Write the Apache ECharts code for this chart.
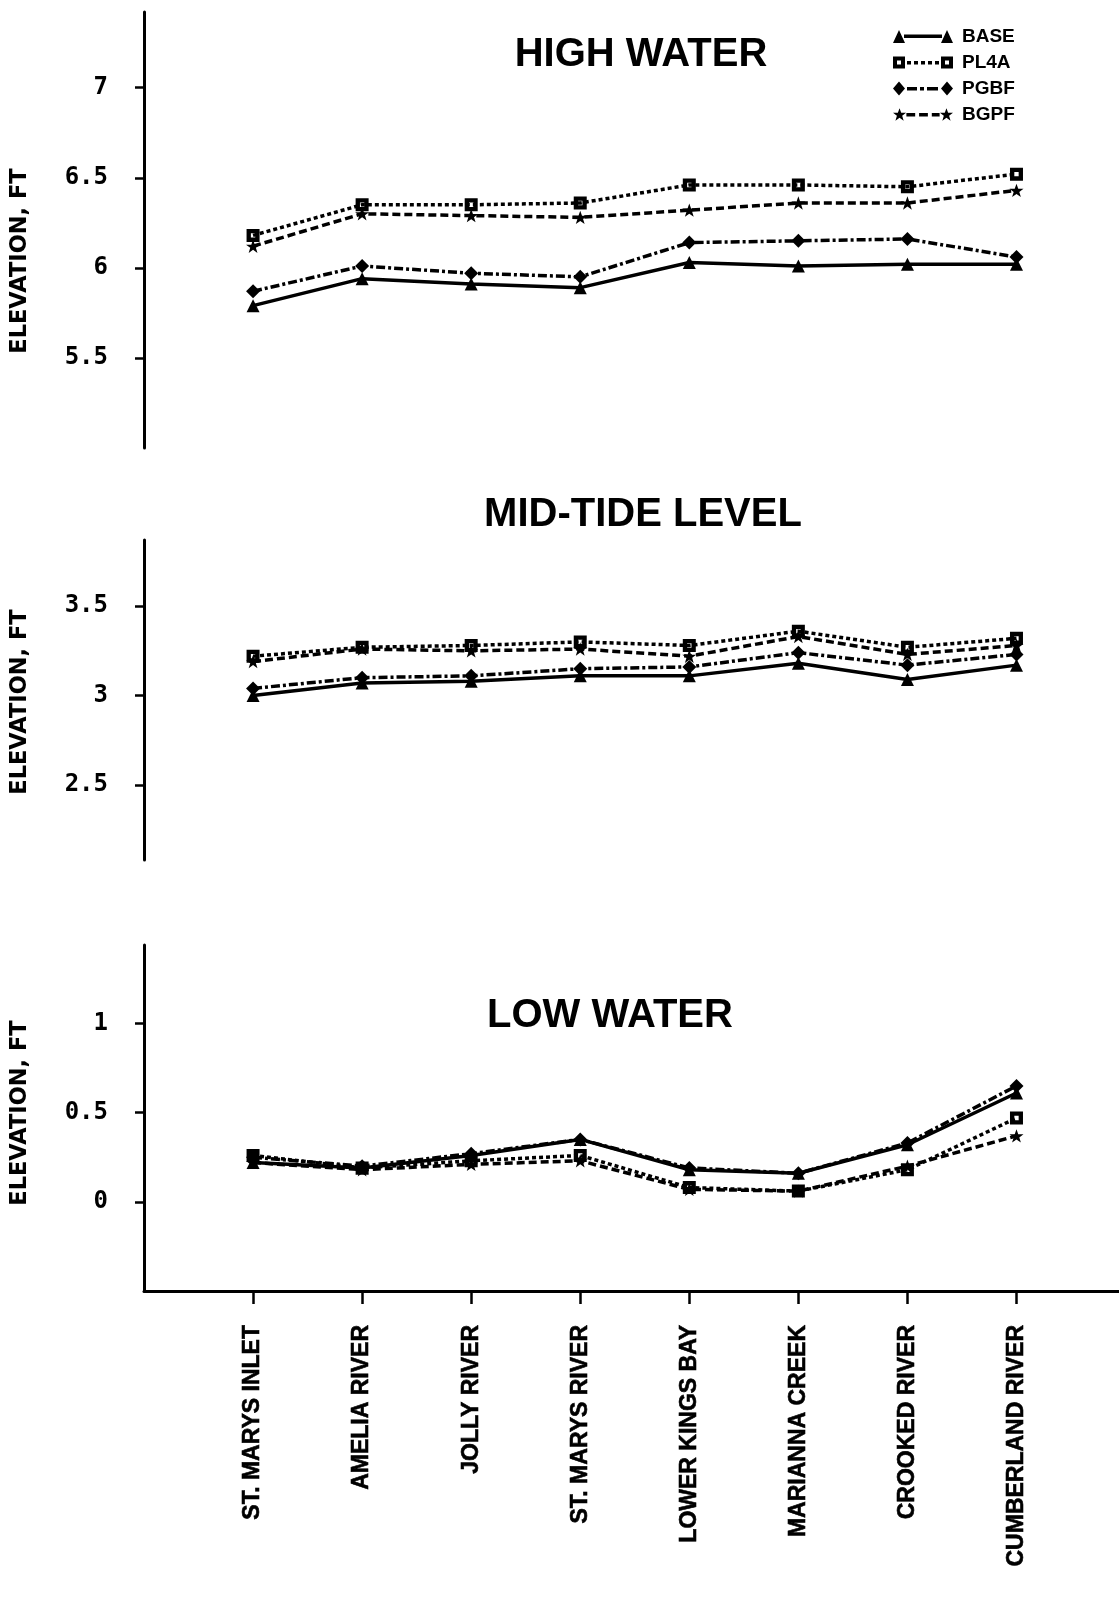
<!DOCTYPE html>
<html>
<head>
<meta charset="utf-8">
<script src="https://cdn.jsdelivr.net/npm/echarts@6/dist/echarts.min.js"></script>
<style>
  html, body { margin: 0; padding: 0; background: #fff; }
  #chart { width: 1119px; height: 1606px; }
</style>
</head>
<body>
<div id="chart"></div>
<script>
// Gauging stations along the estuary, upstream order
const stations = ['ST. MARYS INLET', 'AMELIA RIVER', 'JOLLY RIVER', 'ST. MARYS RIVER',
                  'LOWER KINGS BAY', 'MARIANNA CREEK', 'CROOKED RIVER', 'CUMBERLAND RIVER'];
const runNames = ['BASE', 'PL4A', 'PGBF', 'BGPF'];
const panelTitles = ['HIGH WATER', 'MID-TIDE LEVEL', 'LOW WATER'];

// High water elevation, ft
const highBASE = [5.79, 5.94, 5.91, 5.89, 6.03, 6.01, 6.02, 6.02];
const highPL4A = [6.18, 6.35, 6.35, 6.36, 6.46, 6.46, 6.45, 6.52];
const highPGBF = [5.87, 6.01, 5.97, 5.95, 6.14, 6.15, 6.16, 6.06];
const highBGPF = [6.12, 6.30, 6.29, 6.28, 6.32, 6.36, 6.36, 6.43];

// Mid-tide level, ft
const midBASE = [3.00, 3.07, 3.08, 3.11, 3.11, 3.18, 3.09, 3.17];
const midPL4A = [3.22, 3.27, 3.28, 3.30, 3.28, 3.36, 3.27, 3.32];
const midPGBF = [3.04, 3.10, 3.11, 3.15, 3.16, 3.24, 3.17, 3.23];
const midBGPF = [3.19, 3.26, 3.25, 3.26, 3.22, 3.33, 3.23, 3.28];

// Low water elevation, ft
const lowBASE = [0.22, 0.19, 0.26, 0.35, 0.18, 0.16, 0.32, 0.61];
const lowPL4A = [0.26, 0.19, 0.23, 0.26, 0.08, 0.06, 0.18, 0.47];
const lowPGBF = [0.25, 0.20, 0.27, 0.35, 0.19, 0.16, 0.33, 0.65];
const lowBGPF = [0.22, 0.18, 0.21, 0.23, 0.07, 0.06, 0.20, 0.37];

// Tick labels on the elevation axes
const highTicks = [5.5, 6, 6.5, 7];
const midTicks = [2.5, 3, 3.5];
const lowTicks = [0, 0.5, 1];

// ---- presentation ----
const INK = '#000';
const STAR = 'path://M6,0 L7.7,4.9 L12.7,4.9 L8.7,7.9 L10.2,12.8 L6,9.8 L1.8,12.8 L3.3,7.9 L-0.7,4.9 L4.3,4.9 Z';
const HOLLOW_SQ = 'path://M0,0 H12 V12 H0 Z M4,4 V8 H8 V4 Z';

const runStyle = {
  BASE: { symbol: 'triangle', size: 13, dash: 'solid' },
  PL4A: { symbol: HOLLOW_SQ, size: 13, dash: [4, 3] },
  PGBF: { symbol: 'diamond', size: 14, dash: [9, 3, 3, 3] },
  BGPF: { symbol: STAR, size: 14, dash: [8, 4] }
};

// Legend samples: marker - line pattern - marker
const legendIcons = {
  BASE: 'path://M0,14 L6,1 L12,14 Z M11,5.5 H49 V9 H11 Z M48,14 L54,1 L60,14 Z',
  PL4A: 'path://M0,1 H12 V13 H0 Z M4,5 V9 H8 V5 Z M14,5.5 h4 v3.5 h-4 Z M21,5.5 h4 v3.5 h-4 Z M28,5.5 h4 v3.5 h-4 Z M35,5.5 h4 v3.5 h-4 Z M42,5.5 h4 v3.5 h-4 Z M48,1 H60 V13 H48 Z M52,5 V9 H56 V5 Z',
  PGBF: 'path://M0,7 L6,0 L12,7 L6,14 Z M14,5.5 h10 v3.5 h-10 Z M27,5.5 h4 v3.5 h-4 Z M34,5.5 h11 v3.5 h-11 Z M48,7 L54,0 L60,7 L54,14 Z',
  BGPF: 'path://M6,0.5 L7.7,5.3 L12.7,5.3 L8.7,8.4 L10.2,13.5 L6,10.4 L1.8,13.5 L3.3,8.4 L-0.7,5.3 L4.3,5.3 Z M13,5.5 h9 v3.5 h-9 Z M26,5.5 h9 v3.5 h-9 Z M39,5.5 h8 v3.5 h-8 Z M54,0.5 L55.7,5.3 L60.7,5.3 L56.7,8.4 L58.2,13.5 L54,10.4 L49.8,13.5 L51.3,8.4 L47.3,5.3 L52.3,5.3 Z'
};

const panels = [
  { values: [highBASE, highPL4A, highPGBF, highBGPF], ticks: highTicks, min: 5.0, max: 7.42,
    grid: { top: 12, height: 436 }, nameShift: [0, 62, 0, 0], title: { x: 641, y: 35 } },
  { values: [midBASE, midPL4A, midPGBF, midBGPF], ticks: midTicks, min: 2.08, max: 3.87,
    grid: { top: 540, height: 320 }, nameShift: [0, 4, 0, 0], title: { x: 643, y: 495 } },
  { values: [lowBASE, lowPL4A, lowPGBF, lowBGPF], ticks: lowTicks, min: -0.5, max: 1.44,
    grid: { top: 945, height: 346 }, nameShift: [0, 0, 0, 10], title: { x: 610, y: 996 } }
];

const stationPos = stations.map((s, i) => i + 1);
const X_MAX = 8.94;
const AXIS_LEFT = 144;

const grids = [], xAxes = [], yAxes = [], series = [], titles = [];

panels.forEach((p, g) => {
  const isBottom = g === panels.length - 1;
  grids.push({ left: AXIS_LEFT, right: 0, top: p.grid.top, height: p.grid.height });

  titles.push({
    text: panelTitles[g], left: p.title.x, top: p.title.y, textAlign: 'center', padding: 0,
    textStyle: { fontFamily: 'Liberation Sans, Arial, sans-serif', fontWeight: 'bold', fontSize: 40, color: INK }
  });

  xAxes.push({
    type: 'value', gridIndex: g, min: 0, max: X_MAX, show: isBottom,
    splitLine: { show: false },
    axisLine: { show: isBottom, onZero: false, lineStyle: { color: INK, width: 3 } },
    axisTick: { show: isBottom, customValues: stationPos, length: 13, lineStyle: { color: INK, width: 2.5 } },
    axisLabel: {
      show: isBottom, customValues: stationPos, rotate: 90, margin: 34,
      formatter: v => stations[Math.round(v) - 1] || '',
      fontFamily: 'Liberation Sans, Arial, sans-serif', fontWeight: 'bold', fontSize: 23, color: INK,
      textBorderColor: INK, textBorderWidth: 0.6
    }
  });

  yAxes.push({
    type: 'value', gridIndex: g, min: p.min, max: p.max,
    splitLine: { show: false },
    axisLine: { show: true, lineStyle: { color: INK, width: 3 } },
    axisTick: { show: true, customValues: p.ticks, length: 9, lineStyle: { color: INK, width: 2.5 } },
    axisLabel: {
      customValues: p.ticks, margin: 36, formatter: v => String(v),
      fontFamily: 'DejaVu Sans Mono, Liberation Mono, monospace', fontWeight: 'bold', fontSize: 24, color: INK
    },
    name: 'ELEVATION, FT', nameLocation: 'middle', nameGap: 112,
    nameTextStyle: {
      fontFamily: 'DejaVu Sans, sans-serif', fontWeight: 'bold', fontSize: 22.5, color: INK,
      padding: p.nameShift
    }
  });

  runNames.forEach((run, r) => {
    const st = runStyle[run];
    series.push({
      name: run, type: 'line', xAxisIndex: g, yAxisIndex: g,
      data: p.values[r].map((v, i) => [stationPos[i], v]),
      symbol: st.symbol, symbolSize: st.size, symbolKeepAspect: true,
      lineStyle: { color: INK, width: 3.5, type: st.dash },
      itemStyle: { color: INK },
      emphasis: { disabled: true },
      z: 10 - r
    });
  });
});

const chart = echarts.init(document.getElementById('chart'), null, { renderer: 'canvas' });
chart.setOption({
  animation: false,
  backgroundColor: '#fff',
  title: titles,
  legend: {
    orient: 'vertical', left: 893, top: 27, padding: 0,
    itemWidth: 60, itemHeight: 14, itemGap: 7,
    textStyle: { fontFamily: 'Liberation Sans, Arial, sans-serif', fontWeight: 'bold', fontSize: 19, color: INK, padding: [0, 0, 0, 4] },
    selectedMode: false,
    data: runNames.map(n => ({ name: n, icon: legendIcons[n], itemStyle: { color: INK } }))
  },
  grid: grids,
  xAxis: xAxes,
  yAxis: yAxes,
  series: series
});
</script>
</body>
</html>
